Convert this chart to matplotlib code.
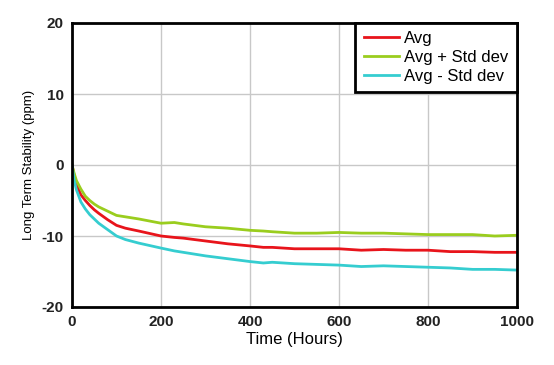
import matplotlib
matplotlib.use("Agg")
import matplotlib.pyplot as plt

plt.rcParams['font.family'] = ['Liberation Sans', 'DejaVu Sans']
plt.rcParams['axes.unicode_minus'] = False

# values
hours = [0, 5, 10, 20, 30, 40, 50, 60, 80, 100, 120, 150, 200, 230, 250, 300,
         350, 400, 430, 450, 500, 550, 600, 650, 700, 750, 800, 850, 900, 950, 1000]
avg = [0, -1.5, -2.8, -4.2, -5.0, -5.7, -6.3, -6.8, -7.7, -8.5, -8.9, -9.3, -10.0,
       -10.2, -10.3, -10.7, -11.1, -11.4, -11.6, -11.6, -11.8, -11.8, -11.8, -12.0,
       -11.9, -12.0, -12.0, -12.2, -12.2, -12.3, -12.3]
avg_plus = [0, -1.2, -2.2, -3.4, -4.4, -5.0, -5.5, -5.9, -6.5, -7.1, -7.3, -7.6, -8.2,
            -8.1, -8.3, -8.7, -8.9, -9.2, -9.3, -9.4, -9.6, -9.6, -9.5, -9.6, -9.6,
            -9.7, -9.8, -9.8, -9.8, -10.0, -9.9]
avg_minus = [0, -2.2, -3.5, -5.2, -6.2, -7.0, -7.6, -8.2, -9.1, -10.0, -10.5, -11.0,
             -11.7, -12.1, -12.3, -12.8, -13.2, -13.6, -13.8, -13.7, -13.9, -14.0,
             -14.1, -14.3, -14.2, -14.3, -14.4, -14.5, -14.7, -14.7, -14.8]
labels = ['Avg', 'Avg + Std dev', 'Avg - Std dev']
colors = ['#e8141b', '#9acd1e', '#35cdd0']

fig = plt.figure(figsize=(5.54, 3.65), dpi=100)
ax = fig.add_axes([72/554, 1 - 307/365, 445/554, 284/365])

for ys, lab, c in zip([avg, avg_plus, avg_minus], labels, colors):
    ax.plot(hours, ys, color=c, lw=2, label=lab)

ax.set_xlim(0, 1000)
ax.set_ylim(-20, 20)
ax.set_xticks([0, 200, 400, 600, 800, 1000])
ax.set_yticks([-20, -10, 0, 10, 20])
ax.grid(True, color='#c8c8c8', lw=1)
ax.tick_params(length=0, labelsize=11, pad=6)
for lbl in ax.get_xticklabels() + ax.get_yticklabels():
    lbl.set_fontweight('bold')
    lbl.set_color('#222222')
for s in ax.spines.values():
    s.set_linewidth(2)
    s.set_color('black')

ax.set_xlabel('Time (Hours)', fontsize=12, labelpad=2)
ax.set_ylabel('Long Term Stability (ppm)', fontsize=9.5, labelpad=5)

leg = ax.legend(loc='upper right', fontsize=12, fancybox=False, framealpha=1,
                edgecolor='black', borderaxespad=0, handlelength=2.1,
                labelspacing=0.22, borderpad=0.5, handletextpad=0.35)
leg.get_frame().set_linewidth(2)

fig.savefig('out.png', dpi=100)
